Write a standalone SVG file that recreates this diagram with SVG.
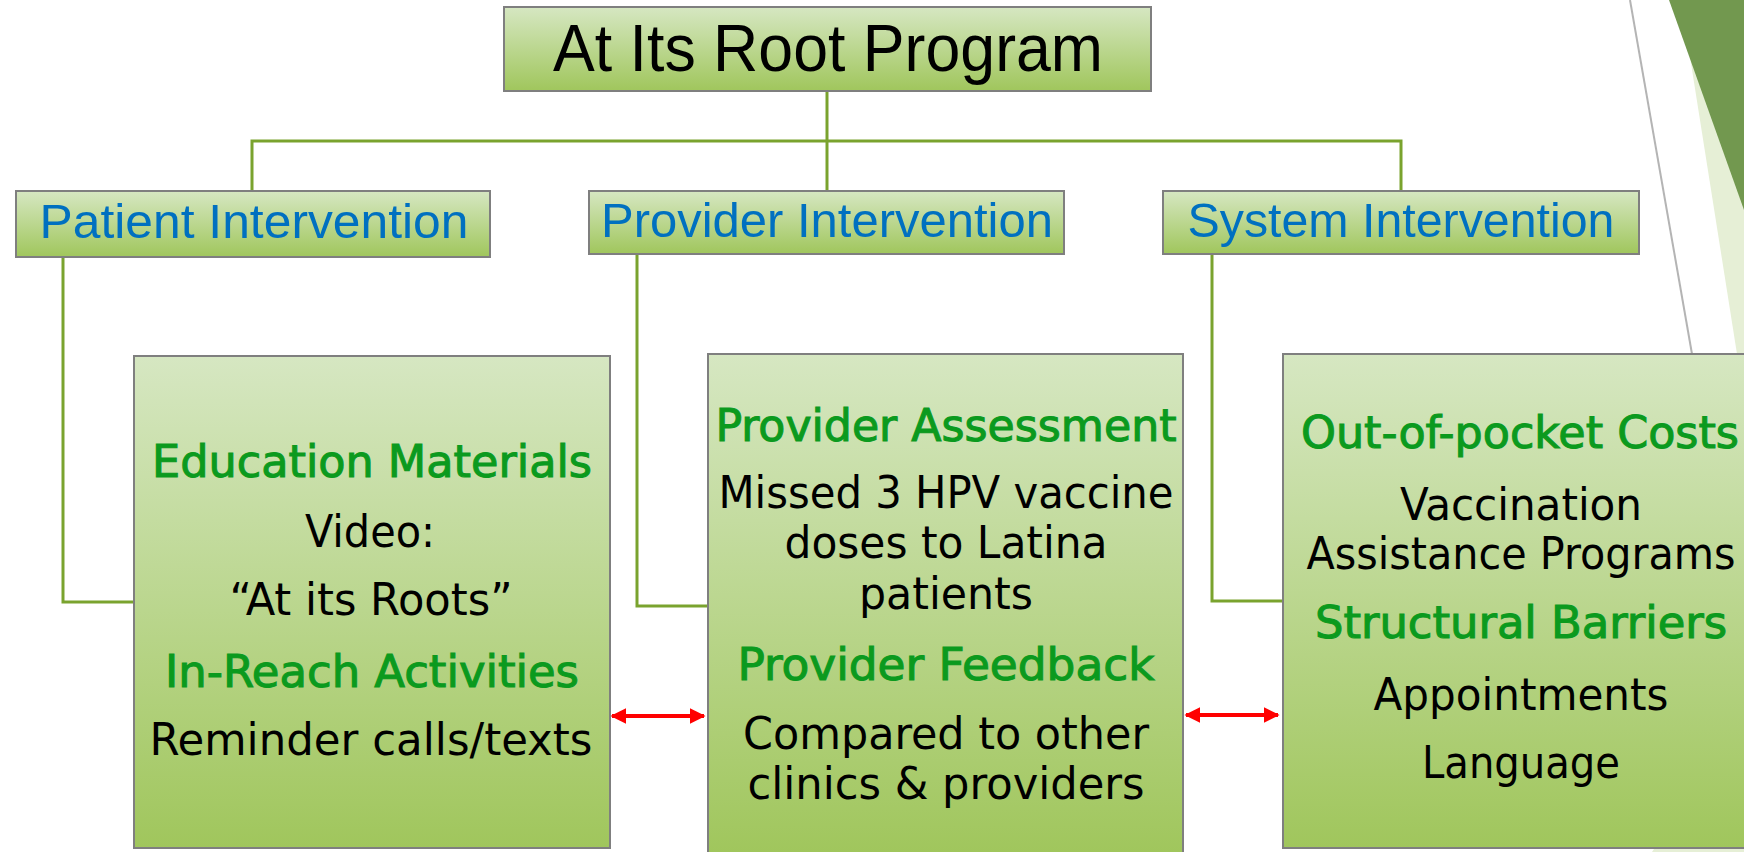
<svg xmlns="http://www.w3.org/2000/svg" width="1744" height="852" viewBox="0 0 1744 852">
<defs>
<linearGradient id="g" x1="0" y1="0" x2="0" y2="1">
<stop offset="0" stop-color="#d6e7c2"/>
<stop offset="1" stop-color="#a0c65c"/>
</linearGradient>
<marker id="ah" viewBox="0 0 10 10" refX="9" refY="5" markerWidth="4" markerHeight="4" orient="auto-start-reverse" markerUnits="strokeWidth">
<path d="M0,0 L10,5 L0,10 z" fill="#ff0000"/>
</marker>
<style>
.box{fill:url(#g);stroke:#7f7f7f;stroke-width:2}
.conn{fill:none;stroke:#7aa32e;stroke-width:3}
.arr{fill:none;stroke:#ff0000;stroke-width:4}
.title{font-family:"Liberation Sans",Arial,sans-serif;font-size:67px;fill:#000}
.l2{font-family:"Liberation Sans",Arial,sans-serif;font-size:49px;fill:#0070c0}
.hd{font-family:"DejaVu Sans",Tahoma,sans-serif;font-stretch:condensed;font-size:45px;fill:#0b9a1e;stroke:#0b9a1e;stroke-width:1}
.tx{font-family:"DejaVu Sans",Tahoma,sans-serif;font-stretch:condensed;font-size:45px;fill:#000}
</style>
</defs>
<rect width="1744" height="852" fill="#ffffff"/>
<g id="decor">
<polygon points="1681,0 1744,0 1744,354 1737,354" fill="#e6efd6"/>
<polygon points="1669,0 1744,0 1744,210" fill="#72984f"/>
<line x1="1630" y1="0" x2="1692" y2="354" stroke="#b4b4b4" stroke-width="2"/>
<polygon points="1652,852 1744,852 1744,846 1656,846" fill="#e6efd6"/>
</g>
<g id="connectors">
<polyline class="conn" points="827,91 827,191"/>
<polyline class="conn" points="252,191 252,141 1401,141 1401,191"/>
<polyline class="conn" points="63,257 63,602 135,602"/>
<polyline class="conn" points="637,254 637,606 708,606"/>
<polyline class="conn" points="1212,254 1212,601 1283,601"/>
<line class="arr" x1="612" y1="716" x2="704" y2="716" marker-start="url(#ah)" marker-end="url(#ah)"/>
<line class="arr" x1="1186" y1="715" x2="1278" y2="715" marker-start="url(#ah)" marker-end="url(#ah)"/>
</g>
<g id="root">
<rect class="box" x="504" y="7" width="647" height="84"/>
<text class="title" x="828" y="71" text-anchor="middle" textLength="550" lengthAdjust="spacingAndGlyphs">At Its Root Program</text>
</g>
<g id="patient">
<rect class="box" x="16" y="191" width="474" height="66"/>
<text class="l2" x="254" y="238" text-anchor="middle" textLength="429" lengthAdjust="spacingAndGlyphs">Patient Intervention</text>
</g>
<g id="provider">
<rect class="box" x="589" y="191" width="475" height="63"/>
<text class="l2" x="827" y="237" text-anchor="middle" textLength="452" lengthAdjust="spacingAndGlyphs">Provider Intervention</text>
</g>
<g id="system">
<rect class="box" x="1163" y="191" width="476" height="63"/>
<text class="l2" x="1401" y="237" text-anchor="middle" textLength="427" lengthAdjust="spacingAndGlyphs">System Intervention</text>
</g>
<g id="patient-detail">
<rect class="box" x="134" y="356" width="476" height="492"/>
<text class="hd" x="372" y="477" text-anchor="middle" textLength="440" lengthAdjust="spacingAndGlyphs">Education Materials</text>
<text class="tx" x="370" y="547" text-anchor="middle" textLength="130" lengthAdjust="spacingAndGlyphs">Video:</text>
<text class="tx" x="371" y="615" text-anchor="middle" textLength="283" lengthAdjust="spacingAndGlyphs">“At its Roots”</text>
<text class="hd" x="372" y="687" text-anchor="middle" textLength="414" lengthAdjust="spacingAndGlyphs">In-Reach Activities</text>
<text class="tx" x="371" y="755" text-anchor="middle" textLength="443" lengthAdjust="spacingAndGlyphs">Reminder calls/texts</text>
</g>
<g id="provider-detail">
<rect class="box" x="708" y="354" width="475" height="500"/>
<text class="hd" x="946" y="441" text-anchor="middle" textLength="461" lengthAdjust="spacingAndGlyphs">Provider Assessment</text>
<text class="tx" x="946" y="508" text-anchor="middle" textLength="455" lengthAdjust="spacingAndGlyphs">Missed 3 HPV vaccine</text>
<text class="tx" x="946" y="558" text-anchor="middle" textLength="323" lengthAdjust="spacingAndGlyphs">doses to Latina</text>
<text class="tx" x="946" y="609" text-anchor="middle" textLength="174" lengthAdjust="spacingAndGlyphs">patients</text>
<text class="hd" x="946" y="680" text-anchor="middle" textLength="417" lengthAdjust="spacingAndGlyphs">Provider Feedback</text>
<text class="tx" x="946" y="749" text-anchor="middle" textLength="406" lengthAdjust="spacingAndGlyphs">Compared to other</text>
<text class="tx" x="946" y="799" text-anchor="middle" textLength="397" lengthAdjust="spacingAndGlyphs">clinics &amp; providers</text>
</g>
<g id="system-detail">
<rect class="box" x="1283" y="354" width="480" height="494"/>
<text class="hd" x="1520" y="448" text-anchor="middle" textLength="438" lengthAdjust="spacingAndGlyphs">Out-of-pocket Costs</text>
<text class="tx" x="1521" y="520" text-anchor="middle" textLength="242" lengthAdjust="spacingAndGlyphs">Vaccination</text>
<text class="tx" x="1521" y="569" text-anchor="middle" textLength="429" lengthAdjust="spacingAndGlyphs">Assistance Programs</text>
<text class="hd" x="1521" y="638" text-anchor="middle" textLength="412" lengthAdjust="spacingAndGlyphs">Structural Barriers</text>
<text class="tx" x="1521" y="710" text-anchor="middle" textLength="295" lengthAdjust="spacingAndGlyphs">Appointments</text>
<text class="tx" x="1521" y="778" text-anchor="middle" textLength="198" lengthAdjust="spacingAndGlyphs">Language</text>
</g>
</svg>
